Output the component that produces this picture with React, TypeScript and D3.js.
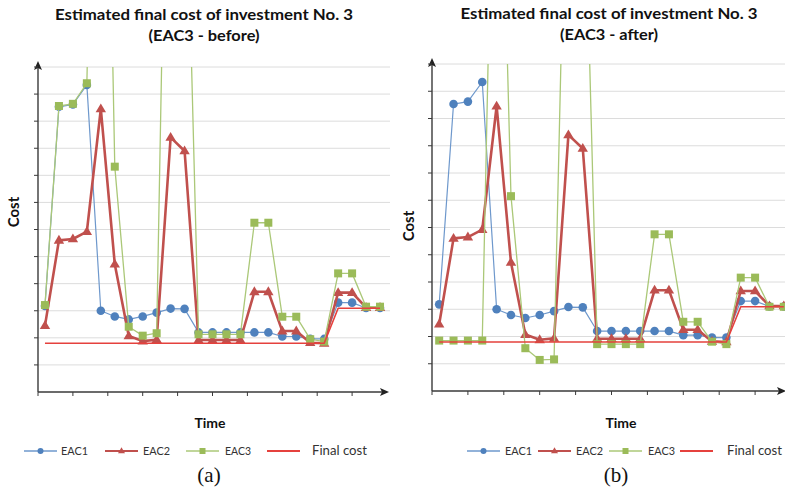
import React from "react";
import * as d3 from "d3";

const periods = [1, 2, 3, 4, 5, 6, 7, 8, 9, 10, 11, 12, 13, 14, 15, 16, 17, 18, 19, 20, 21, 22, 23, 24, 25];
const eac1 = [3.18, 10.53, 10.62, 11.34, 3.0, 2.79, 2.68, 2.79, 2.93, 3.08, 3.07, 2.2, 2.2, 2.2, 2.2, 2.2, 2.2, 2.05, 2.05, 1.96, 1.96, 3.3, 3.3, 3.1, 3.1];
const eac2 = [2.45, 5.6, 5.65, 5.92, 10.45, 4.72, 2.07, 1.88, 1.93, 9.4, 8.9, 1.92, 1.92, 1.92, 1.92, 3.7, 3.7, 2.25, 2.25, 1.82, 1.8, 3.67, 3.67, 3.12, 3.12];
const eac3Before = [3.21, 10.56, 10.64, 11.4, 35, 8.32, 2.41, 2.08, 2.17, 30, 22, 2.13, 2.13, 2.13, 2.13, 6.25, 6.25, 2.78, 2.78, 1.95, 1.86, 4.38, 4.38, 3.15, 3.15];
const eac3After = [1.85, 1.85, 1.85, 1.85, 27, 7.15, 1.57, 1.14, 1.16, 24, 21.6, 1.72, 1.72, 1.72, 1.72, 5.75, 5.75, 2.54, 2.54, 1.81, 1.72, 4.16, 4.16, 3.09, 3.09];
const finalCost = [1.8, 1.8, 1.8, 1.8, 1.8, 1.8, 1.8, 1.8, 1.8, 1.8, 1.8, 1.8, 1.8, 1.8, 1.8, 1.8, 1.8, 1.8, 1.8, 1.8, 1.8, 3.09, 3.09, 3.09, 3.09];
const yTickValues = [1, 2, 3, 4, 5, 6, 7, 8, 9, 10, 11, 12];
const xTickValues = [-0.5, 2, 4.5, 7, 9.5, 12, 14.5, 17, 19.5, 22];
const legendLabels = ["EAC1", "EAC2", "EAC3", "Final cost"];

const BLUE = "#4F81BD";
const BLUE_LINE = "#6E98CC";
const RED = "#C0504D";
const GREEN = "#9BBB59";
const GREEN_LINE = "#ABC878";
const FINAL = "#E5413D";
const FONT = "Lato, 'Open Sans', sans-serif";

type PanelProps = {
  id: string;
  titleLines: string[];
  titleX: number;
  titleY: number[];
  titleLen: number[];
  eac3: number[];
  axisX: number;
  top: number;
  bottom: number;
  step: number;
  gridRight: number;
  arrowTip: number;
  costY: number;
  costX: number;
  timeX: number;
  legendLine: number[];
  legendText: number[];
  legendTextLen: number[];
  subLabel: string;
  subX: number;
};

function Marker({ kind, x, y, s }: { kind: string; x: number; y: number; s: number }) {
  if (kind === "circle") return <circle cx={x} cy={y} r={s} fill={BLUE} />;
  if (kind === "tri") {
    const p = `${x},${y - s * 1.05} ${x - s},${y + s * 0.65} ${x + s},${y + s * 0.65}`;
    return <polygon points={p} fill={RED} />;
  }
  if (kind === "sq") return <rect x={x - s} y={y - s} width={2 * s} height={2 * s} fill={GREEN} />;
  return null;
}

function Panel(p: PanelProps) {
  const x = d3.scaleLinear().domain([-0.5, 24.5]).range([p.axisX, p.axisX + 25 * p.step]);
  const y = d3.scaleLinear().domain([0, 12]).range([p.bottom, p.top]);
  const line = d3
    .line<number>()
    .x((_, i) => x(i))
    .y((v) => y(v));
  const clipId = `clip-${p.id}`;
  const series = [
    { data: eac1, stroke: BLUE_LINE, w: 1.2, kind: "circle", s: 4.3 },
    { data: eac2, stroke: RED, w: 2.6, kind: "tri", s: 5.2 },
    { data: p.eac3, stroke: GREEN_LINE, w: 1.3, kind: "sq", s: 4 },
    { data: finalCost, stroke: FINAL, w: 1.6, kind: "none", s: 0 },
  ];
  const legendKinds = [
    { stroke: BLUE_LINE, w: 1.5, kind: "circle", s: 3 },
    { stroke: RED, w: 2, kind: "tri", s: 3.5 },
    { stroke: GREEN_LINE, w: 1.5, kind: "sq", s: 3 },
    { stroke: FINAL, w: 1.8, kind: "none", s: 0 },
  ];
  const ly = 451;
  return (
    <g>
      <defs>
        <clipPath id={clipId}>
          <rect x={p.axisX} y={p.top} width={p.gridRight - p.axisX} height={p.bottom - p.top + 20} />
        </clipPath>
      </defs>
      {p.titleLines.map((t, i) => (
        <text
          key={i}
          x={p.titleX}
          y={p.titleY[i]}
          textAnchor="middle"
          fontFamily={FONT}
          fontWeight="bold"
          fontSize={15}
          fill="#111"
          textLength={p.titleLen[i]}
          lengthAdjust="spacingAndGlyphs"
        >
          {t}
        </text>
      ))}
      {yTickValues.map((v) => (
        <line key={`g${v}`} x1={p.axisX} x2={p.gridRight} y1={y(v)} y2={y(v)} stroke="#DCDCDC" strokeWidth={1} />
      ))}
      <g clipPath={`url(#${clipId})`}>
        {series.map((s, si) => (
          <g key={si}>
            <path d={line(s.data) || ""} fill="none" stroke={s.stroke} strokeWidth={s.w} strokeLinejoin="round" />
            {s.kind !== "none" &&
              s.data.map((v, i) => <Marker key={i} kind={s.kind} x={x(i)} y={y(v)} s={s.s} />)}
          </g>
        ))}
      </g>
      <line x1={p.axisX} x2={p.axisX} y1={p.bottom} y2={p.top - 2} stroke="#3a3a3a" strokeWidth={1.4} />
      <path
        d={`M${p.axisX},${p.top - 6} L${p.axisX - 4},${p.top + 3} L${p.axisX},${p.top + 1} L${p.axisX + 4},${p.top + 3} Z`}
        fill="#222"
      />
      <line x1={p.axisX} x2={p.arrowTip - 2} y1={p.bottom} y2={p.bottom} stroke="#3a3a3a" strokeWidth={1.4} />
      <path
        d={`M${p.arrowTip},${p.bottom} L${p.arrowTip - 9},${p.bottom - 4} L${p.arrowTip - 7},${p.bottom} L${p.arrowTip - 9},${p.bottom + 4} Z`}
        fill="#222"
      />
      {yTickValues.map((v) => (
        <line key={`yt${v}`} x1={p.axisX - 4} x2={p.axisX} y1={y(v)} y2={y(v)} stroke="#3a3a3a" strokeWidth={1} />
      ))}
      {xTickValues.map((v) => (
        <line key={`xt${v}`} x1={x(v)} x2={x(v)} y1={p.bottom} y2={p.bottom + 4} stroke="#3a3a3a" strokeWidth={1} />
      ))}
      <text
        transform={`translate(${p.costX},${p.costY}) rotate(-90)`}
        textAnchor="middle"
        fontFamily={FONT}
        fontWeight="bold"
        fontSize={15}
        fill="#111"
      >
        Cost
      </text>
      <text x={p.timeX} y={428} textAnchor="middle" fontFamily={FONT} fontWeight="bold" fontSize={14} fill="#111">
        Time
      </text>
      {legendLabels.map((lab, i) => {
        const k = legendKinds[i];
        const x0 = p.legendLine[i];
        const x1 = x0 + 33;
        return (
          <g key={lab}>
            <line x1={x0} x2={x1} y1={ly} y2={ly} stroke={k.stroke} strokeWidth={k.w} />
            {k.kind !== "none" && <Marker kind={k.kind} x={(x0 + x1) / 2} y={ly} s={k.s} />}
            <text
              x={p.legendText[i]}
              y={ly + 4}
              fontFamily={FONT}
              fontSize={i === 3 ? 13 : 12}
              fill="#333"
              textLength={p.legendTextLen[i]}
              lengthAdjust="spacingAndGlyphs"
            >
              {lab}
            </text>
          </g>
        );
      })}
      <text x={p.subX} y={482} textAnchor="middle" fontFamily="'Liberation Serif', 'DejaVu Serif', serif" fontSize={21} fill="#111">
        {p.subLabel}
      </text>
    </g>
  );
}

export default function App() {
  return (
    <svg
      width={785}
      height={492}
      viewBox="0 0 785 492"
      style={{ position: "absolute", left: 0, top: 0, background: "#fff" }}
    >
      <rect width={785} height={492} fill="#fff" />
      <Panel
        id="a"
        titleLines={["Estimated final cost of investment No. 3", "(EAC3 - before)"]}
        titleX={204}
        titleY={[20, 41]}
        titleLen={[298, 111]}
        eac3={eac3Before}
        axisX={38}
        top={67}
        bottom={392}
        step={13.96}
        gridRight={390}
        arrowTip={389}
        costX={19}
        costY={212}
        timeX={210}
        legendLine={[24, 105, 186, 267]}
        legendText={[61, 143, 225, 312]}
        legendTextLen={[27, 27, 26, 55]}
        subLabel="(a)"
        subX={209}
      />
      <Panel
        id="b"
        titleLines={["Estimated final cost of investment No. 3", "(EAC3 - after)"]}
        titleX={609}
        titleY={[19, 40]}
        titleLen={[297, 98]}
        eac3={eac3After}
        axisX={432}
        top={64}
        bottom={391}
        step={14.36}
        gridRight={785}
        arrowTip={786}
        costX={414}
        costY={226}
        timeX={621}
        legendLine={[467, 538, 609, 680]}
        legendText={[505, 576, 648, 727]}
        legendTextLen={[27, 27, 27, 55]}
        subLabel="(b)"
        subX={616}
      />
    </svg>
  );
}
